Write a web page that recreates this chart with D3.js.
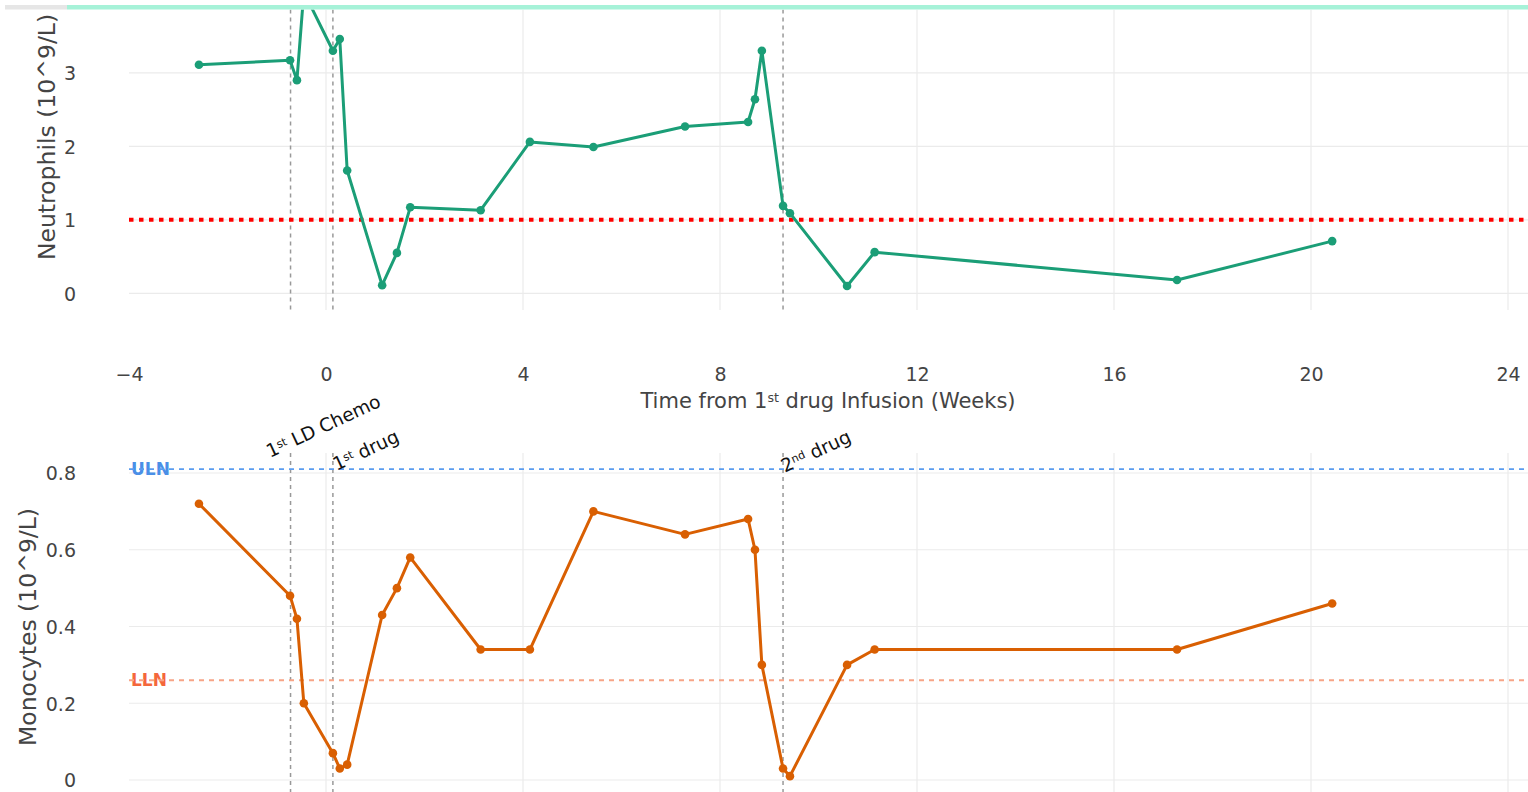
<!DOCTYPE html>
<html>
<head>
<meta charset="utf-8">
<script src="https://cdn.jsdelivr.net/npm/d3@7"></script>
<style>
  html, body { margin: 0; padding: 0; background: #fff; overflow: hidden; }
  svg { display: block; font-family: "DejaVu Sans", Verdana, sans-serif; }
</style>
</head>
<body>
<script>
// ---------------- data ----------------
const weeks = [-2.58, -0.73, -0.59, -0.45, 0.14, 0.28, 0.43, 1.14, 1.44, 1.71, 3.14, 4.14, 5.43, 7.29, 8.57, 8.71, 8.85, 9.28, 9.42, 10.58, 11.14, 17.28, 20.43];
const neutrophils = [3.11, 3.17, 2.90, 4.10, 3.30, 3.46, 1.67, 0.11, 0.55, 1.17, 1.13, 2.06, 1.99, 2.27, 2.33, 2.64, 3.30, 1.19, 1.09, 0.10, 0.56, 0.18, 0.71];
const monocytes = [0.72, 0.48, 0.42, 0.20, 0.07, 0.03, 0.04, 0.43, 0.50, 0.58, 0.34, 0.34, 0.70, 0.64, 0.68, 0.60, 0.30, 0.03, 0.01, 0.30, 0.34, 0.34, 0.46];
const eventNames = ["1st LD Chemo", "1st drug", "2nd drug"];
const eventWeeks = [-0.72, 0.14, 9.28];
const xTicks = [-4, 0, 4, 8, 12, 16, 20, 24];
const neutroTicks = [0, 1, 2, 3, 4];
const monoTicks = [0, 0.2, 0.4, 0.6, 0.8];
const neutroThreshold = 1;
const monoULN = 0.81;
const monoLLN = 0.26;
const xTitle = "Time from 1st drug Infusion (Weeks)";
const neutroTitle = "Neutrophils (10^9/L)";
const monoTitle = "Monocytes (10^9/L)";

// ---------------- layout ----------------
const W = 1528, H = 792;
const svg = d3.select("body").append("svg").attr("width", W).attr("height", H);

const x = d3.scaleLinear().domain([-4, 24]).range([129, 1508]);
const yN = d3.scaleLinear().domain([0, 3]).range([293.3, 72.8]);
const yM = d3.scaleLinear().domain([0, 0.8]).range([780, 473]);

const topR = {y0: 9.5, y1: 310};
const botR = {y0: 453, y1: 800};
const plotX0 = 129, plotX1 = W;

const gridCol = "#ebebeb";
const tickCol = "#444";
const teal = "#1b9e77", orange = "#d95f02";

const defs = svg.append("defs");
defs.append("clipPath").attr("id", "clipTop").append("rect")
  .attr("x", plotX0).attr("y", topR.y0).attr("width", plotX1 - plotX0).attr("height", topR.y1 - topR.y0);
defs.append("clipPath").attr("id", "clipBot").append("rect")
  .attr("x", plotX0).attr("y", botR.y0).attr("width", plotX1 - plotX0).attr("height", botR.y1 - botR.y0);

// helper: text with ordinal superscript
function ordinalText(sel, str, supScale) {
  const m = str.match(/^(.*?\d)(st|nd|rd|th)(\b.*)$/);
  if (!m) { sel.text(str); return; }
  sel.append("tspan").text(m[1]);
  sel.append("tspan").attr("font-size", supScale).attr("dy", "-0.45em").text(m[2]);
  sel.append("tspan").attr("dy", "0.27em").text(m[3]);
}

function panel(clipId, yScale, yTicks, range) {
  const g = svg.append("g").attr("clip-path", `url(#${clipId})`);
  g.selectAll("line.hg").data(yTicks).join("line")
    .attr("x1", plotX0).attr("x2", plotX1)
    .attr("y1", d => yScale(d)).attr("y2", d => yScale(d))
    .attr("stroke", gridCol).attr("stroke-width", 1.2);
  g.selectAll("line.vg").data(xTicks.slice(1)).join("line")
    .attr("x1", d => x(d)).attr("x2", d => x(d))
    .attr("y1", range.y0).attr("y2", range.y1)
    .attr("stroke", gridCol).attr("stroke-width", 1.2);
  g.selectAll("line.ev").data(eventWeeks).join("line")
    .attr("x1", d => x(d)).attr("x2", d => x(d))
    .attr("y1", range.y0).attr("y2", range.y1)
    .attr("stroke", "#999").attr("stroke-width", 1.5).attr("stroke-dasharray", "4,4");
  return g;
}

function drawSeries(g, yScale, values, color) {
  const pts = weeks.map((w, i) => [w, values[i]]);
  g.append("path").datum(pts)
    .attr("fill", "none").attr("stroke", color).attr("stroke-width", 3)
    .attr("stroke-linejoin", "round")
    .attr("d", d3.line().x(d => x(d[0])).y(d => yScale(d[1])));
  g.selectAll("circle.pt").data(pts).join("circle")
    .attr("cx", d => x(d[0])).attr("cy", d => yScale(d[1])).attr("r", 4.3)
    .attr("fill", color);
}

// ---------- top panel ----------
const gTop = panel("clipTop", yN, neutroTicks, topR);
gTop.append("line")
  .attr("x1", plotX0).attr("x2", plotX1)
  .attr("y1", yN(neutroThreshold)).attr("y2", yN(neutroThreshold))
  .attr("stroke", "#ff0000").attr("stroke-width", 4).attr("stroke-dasharray", "4.5,5.5");
drawSeries(gTop, yN, neutrophils, teal);

// ---------- bottom panel ----------
const gBot = panel("clipBot", yM, monoTicks, botR);
gBot.append("text").attr("x", 131).attr("y", yM(monoULN)).attr("dy", "0.36em")
  .attr("font-size", 17).attr("font-weight", "bold").attr("fill", "#4a8fe7").text("ULN");
gBot.append("text").attr("x", 131).attr("y", yM(monoLLN)).attr("dy", "0.36em")
  .attr("font-size", 17).attr("font-weight", "bold").attr("fill", "#f4673c").text("LLN");
gBot.append("line")
  .attr("x1", plotX0).attr("x2", plotX1)
  .attr("y1", yM(monoULN)).attr("y2", yM(monoULN))
  .attr("stroke", "#5a9cf0").attr("stroke-width", 1.7).attr("stroke-dasharray", "5,5");
gBot.append("line")
  .attr("x1", plotX0).attr("x2", plotX1)
  .attr("y1", yM(monoLLN)).attr("y2", yM(monoLLN))
  .attr("stroke", "#f7a486").attr("stroke-width", 2).attr("stroke-dasharray", "5,5");
drawSeries(gBot, yM, monocytes, orange);

// ---------- axes ----------
const xAxis = d3.axisBottom(x).tickValues(xTicks).tickSize(0).tickPadding(0);
const gx = svg.append("g").attr("transform", "translate(0,381)").call(xAxis);
gx.select(".domain").remove();
gx.selectAll("text").attr("y", 0).attr("dy", null)
  .attr("font-size", 19).attr("fill", tickCol).attr("font-family", "DejaVu Sans");

function yAxis(scale, ticks, fmt) {
  const ax = d3.axisLeft(scale).tickValues(ticks).tickSize(0).tickPadding(0).tickFormat(fmt);
  const g = svg.append("g").attr("transform", "translate(76,0)").call(ax);
  g.select(".domain").remove();
  g.selectAll("text").attr("x", 0).attr("dy", "0.36em")
    .attr("font-size", 19).attr("fill", tickCol).attr("font-family", "DejaVu Sans");
  return g;
}
yAxis(yN, neutroTicks.slice(0, 4), d3.format("d"));
yAxis(yM, monoTicks, d => d === 0 ? "0" : d3.format(".1f")(d));

// axis titles
const xt = svg.append("text").attr("x", 828).attr("y", 408)
  .attr("text-anchor", "middle").attr("font-size", 21).attr("fill", tickCol);
ordinalText(xt, xTitle, "60%");

svg.append("text").attr("transform", "translate(55,137) rotate(-90)")
  .attr("text-anchor", "middle").attr("font-size", 23.5).attr("fill", tickCol)
  .text(neutroTitle);
svg.append("text").attr("transform", "translate(36,627) rotate(-90)")
  .attr("text-anchor", "middle").attr("font-size", 23.5).attr("fill", tickCol)
  .text(monoTitle);

// event annotations
const annY = [432, 456, 457];
eventNames.forEach((name, i) => {
  const t = svg.append("text")
    .attr("transform", `translate(${x(eventWeeks[i]) + 35.5},${annY[i]}) rotate(-25)`)
    .attr("text-anchor", "middle").attr("font-size", 18.5).attr("fill", "#111");
  ordinalText(t, name, "60%");
});

// top strip
svg.append("rect").attr("x", 0).attr("y", 0).attr("width", W).attr("height", 5).attr("fill", "#fff");
svg.append("rect").attr("x", 5).attr("y", 5).attr("width", 62).attr("height", 4.5).attr("fill", "#e6e6e6");
svg.append("rect").attr("x", 67).attr("y", 5).attr("width", W - 67).attr("height", 4.5).attr("fill", "#a6f2d8");
</script>
</body>
</html>
